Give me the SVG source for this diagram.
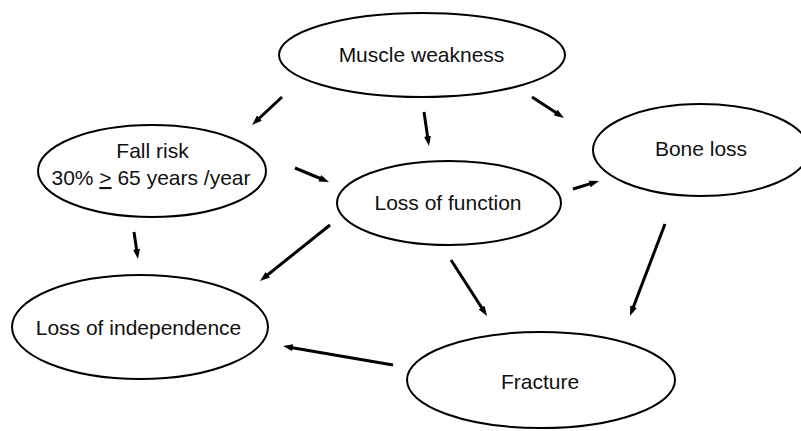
<svg xmlns="http://www.w3.org/2000/svg" width="801" height="431" viewBox="0 0 801 431">
  <style>
    .node ellipse { fill: #ffffff; stroke: #000000; stroke-width: 2; }
    .node text { font-family: "Liberation Sans", Arial, Helvetica, sans-serif; font-size: 21px; fill: #111111; text-anchor: middle; }
    .edge { fill: none; stroke: #000000; stroke-width: 3; stroke-linecap: butt; marker-end: url(#head); }
  </style>
  <defs>
    <!-- small solid arrowhead; tip sits 8px beyond the line end -->
    <marker id="head" viewBox="0 0 10 8" markerWidth="10" markerHeight="8" refX="2" refY="4" orient="auto" markerUnits="userSpaceOnUse">
      <path d="M0,0.5 L10,4 L0,7.5 z" fill="#000000"/>
    </marker>
  </defs>
  <rect width="801" height="431" fill="#ffffff"/>

  <!-- nodes -->
  <g id="muscle-weakness" class="node">
    <ellipse cx="422" cy="55" rx="143" ry="42"/>
    <text x="421.5" y="62">Muscle weakness</text>
  </g>
  <g id="fall-risk" class="node">
    <ellipse cx="152" cy="171" rx="114" ry="46"/>
    <text x="152.5" y="158">Fall risk</text>
    <text x="151" y="185">30% <tspan text-decoration="underline">&gt;</tspan> 65 years /year</text>
  </g>
  <g id="bone-loss" class="node">
    <ellipse cx="701" cy="150" rx="108" ry="46"/>
    <text x="701" y="156">Bone loss</text>
  </g>
  <g id="loss-of-function" class="node">
    <ellipse cx="449" cy="203" rx="112" ry="42"/>
    <text x="448" y="210">Loss of function</text>
  </g>
  <g id="loss-of-independence" class="node">
    <ellipse cx="140" cy="327" rx="128" ry="52"/>
    <text x="138.5" y="335">Loss of independence</text>
  </g>
  <g id="fracture" class="node">
    <ellipse cx="541" cy="380" rx="134" ry="48"/>
    <text x="540" y="389">Fracture</text>
  </g>

  <!-- connectors -->
  <g id="connectors">
    <line class="edge" x1="282" y1="97" x2="257.9" y2="119.5"/>
    <line class="edge" x1="424" y1="112" x2="427.8" y2="138.1"/>
    <line class="edge" x1="532" y1="97" x2="557.3" y2="113.6"/>
    <line class="edge" x1="295" y1="168" x2="321.6" y2="179"/>
    <line class="edge" x1="573" y1="189" x2="591.4" y2="183.4"/>
    <line class="edge" x1="134" y1="232" x2="136.8" y2="251.1"/>
    <line class="edge" x1="330" y1="225" x2="266.2" y2="276"/>
    <line class="edge" x1="451" y1="260" x2="482.7" y2="309.3"/>
    <line class="edge" x1="665" y1="224" x2="632.8" y2="308.5"/>
    <line class="edge" x1="393" y1="365" x2="290.9" y2="347.4"/>
  </g>
</svg>
